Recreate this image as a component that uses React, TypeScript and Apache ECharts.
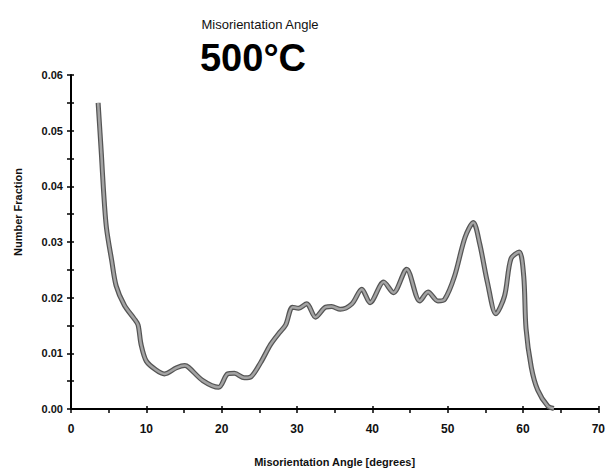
import React, { useEffect, useRef } from "react";
import * as echarts from "echarts";

const angles = [
  3.6, 4.05, 4.3, 4.7, 5.4, 6.0, 7.1, 8.4, 8.9, 9.3, 10.0, 11.3, 12.4, 14.0, 15.1, 15.6,
  17.5, 19.6, 20.8, 21.7, 23.0, 23.9, 25.2, 26.5, 27.6, 28.5, 29.4, 30.2, 31.3, 32.45,
  33.8, 34.6, 35.75, 37.3, 38.6, 39.7, 41.5, 42.8, 44.55, 46.3, 47.4, 48.7, 49.6, 50.9,
  52.3, 53.4, 54.25, 55.3, 56.4, 57.55, 58.4, 59.5, 60.1, 60.4, 61.1, 61.95, 63.3, 64.1,
];
const fractions = [
  0.055, 0.0454, 0.0396, 0.0326, 0.0267, 0.0221, 0.0186, 0.0162, 0.0151, 0.0116, 0.0086,
  0.007, 0.0063, 0.0074, 0.0078, 0.0075, 0.0051, 0.0039, 0.0063, 0.0064, 0.0056, 0.0058,
  0.0084, 0.0116, 0.0136, 0.0151, 0.0183, 0.0181, 0.0189, 0.0165, 0.0183, 0.0184, 0.0179,
  0.0189, 0.0215, 0.0191, 0.0228, 0.0209, 0.0251, 0.0194, 0.021, 0.0194, 0.0197, 0.0238,
  0.0308, 0.0335, 0.0297, 0.0226, 0.0171, 0.0203, 0.027, 0.0282, 0.0238, 0.0145, 0.0075,
  0.0034, 0.0005, 0.0001,
];
const xTicks = [0, 10, 20, 30, 40, 50, 60, 70];
const yTickLabels = ["0.00", "0.01", "0.02", "0.03", "0.04", "0.05", "0.06"];

const titleText = "Misorientation Angle";
const subtitleText = "500°C";
const xName = "Misorientation Angle [degrees]";
const yName = "Number Fraction";

const FONT = "'Liberation Sans', Arial, sans-serif";

export default function App() {
  const ref = useRef<HTMLDivElement>(null);
  useEffect(() => {
    document.body.style.margin = "0";
    if (!ref.current) return;
    const chart = echarts.init(ref.current, null, { renderer: "svg" });
    const data = angles.map((a, i) => [a, fractions[i]]);
    const axisCommon = {
      axisLine: { show: true, lineStyle: { color: "#000", width: 2 } },
      splitLine: { show: false },
    };
    const grid = { left: 71, right: 7, top: 75, bottom: 56, containLabel: false };
    chart.setOption({
      animation: false,
      backgroundColor: "#fff",
      textStyle: { fontFamily: FONT },
      grid,
      graphic: [
        {
          type: "text",
          x: 260,
          y: 24,
          style: {
            text: titleText,
            font: `13px ${FONT}`,
            fill: "#111",
            textAlign: "center",
            textVerticalAlign: "middle",
          },
        },
        {
          type: "text",
          x: 253,
          y: 58,
          style: {
            text: subtitleText,
            font: `bold 38px ${FONT}`,
            fill: "#000",
            textAlign: "center",
            textVerticalAlign: "middle",
          },
        },
        {
          type: "text",
          x: 18,
          y: 212,
          rotation: Math.PI / 2,
          style: {
            text: yName,
            font: `bold 11px ${FONT}`,
            fill: "#111",
            textAlign: "center",
            textVerticalAlign: "middle",
          },
        },
      ],
      xAxis: [
        {
          ...axisCommon,
          type: "value",
          min: 0,
          max: 70,
          interval: 10,
          name: xName,
          nameLocation: "middle",
          nameGap: 47,
          nameTextStyle: { fontSize: 11, fontWeight: "bold", color: "#111", fontFamily: FONT },
          axisTick: { show: true, length: 4, lineStyle: { color: "#000", width: 1.5 } },
          minorTick: { show: true, splitNumber: 2, length: 4, lineStyle: { color: "#000", width: 1.5 } },
          axisLabel: {
            fontSize: 12,
            fontWeight: "bold",
            color: "#111",
            margin: 14,
            fontFamily: FONT,
            formatter: (v: number) => (xTicks.includes(v) ? String(v) : ""),
          },
        },
        {
          type: "value",
          min: 0,
          max: 70,
          interval: 10,
          position: "bottom",
          axisLine: { show: false },
          axisLabel: { show: false },
          splitLine: { show: false },
          axisTick: { show: true, inside: true, length: 3, lineStyle: { color: "#000", width: 1.5 } },
          minorTick: { show: false },
        },
      ],
      yAxis: [
        {
          ...axisCommon,
          type: "value",
          min: 0,
          max: 0.06,
          interval: 0.01,
          axisTick: { show: true, length: 4, lineStyle: { color: "#000", width: 1.5 } },
          minorTick: { show: true, splitNumber: 2, length: 4, lineStyle: { color: "#000", width: 1.5 } },
          axisLabel: {
            fontSize: 11,
            fontWeight: "bold",
            color: "#111",
            margin: 8,
            fontFamily: FONT,
            formatter: (v: number) => yTickLabels[Math.round(v * 100)] ?? "",
          },
        },
        {
          type: "value",
          min: 0,
          max: 0.06,
          interval: 0.005,
          position: "left",
          axisLine: { show: false },
          axisLabel: { show: false },
          splitLine: { show: false },
          axisTick: { show: true, inside: true, length: 3, lineStyle: { color: "#000", width: 1.5 } },
        },
      ],
      series: [
        {
          type: "line",
          data,
          smooth: 0.3,
          showSymbol: false,
          lineStyle: { color: "#555555", width: 5 },
          z: 2,
        },
        {
          type: "line",
          data,
          smooth: 0.3,
          showSymbol: false,
          lineStyle: { color: "#a4a4a4", width: 2.5 },
          z: 3,
        },
      ],
    });
    return () => chart.dispose();
  }, []);
  return <div ref={ref} style={{ width: 608, height: 472 }} />;
}
